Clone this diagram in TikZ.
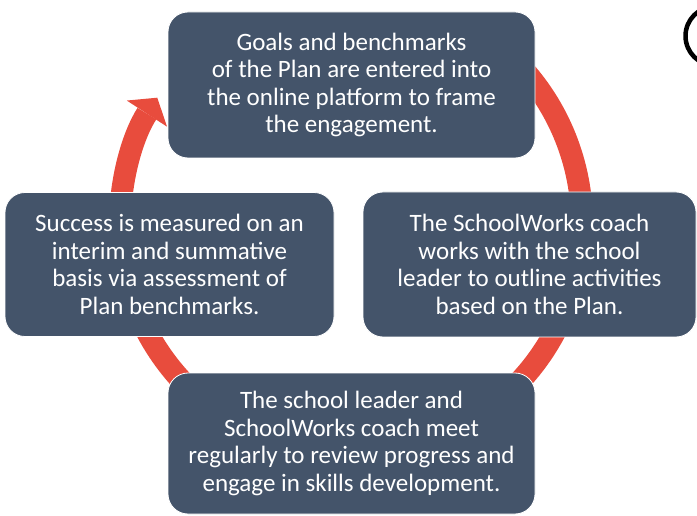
\documentclass[tikz,border=0pt]{standalone}
\usepackage{fontspec}
\setmainfont{Carlito}
\usepackage{tikz}
\usetikzlibrary{arrows.meta,positioning}
\definecolor{slate}{HTML}{44546A}
\definecolor{cyclered}{HTML}{E84C3D}

\begin{document}
\begin{tikzpicture}[node distance=181.5pt,>={Triangle[length=19pt,width=48pt,line width=0pt]},
  stage/.style={fill=slate,draw=white,line width=.8pt,rounded corners=20pt,text=white,align=center,inner sep=0pt,font=\fontsize{25}{27.5}\selectfont}]
\useasboundingbox (0,0) rectangle (697pt,515pt);
\coordinate (hub) at (351pt,291.5pt);
\draw [->,cyclered,line width=22pt] ([shift={(60:231pt)}]hub) arc[start angle=60,end angle=-213,radius=231pt];
\draw [line width=4.5pt] (715pt,479pt) circle (29.5pt);
\node [stage,minimum width=367pt,minimum height=146pt] at (351.5pt,430pt) (goal) {Goals and benchmarks\\of the Plan are entered into\\the online platform to frame\\the engagement.};
\node [stage,minimum width=333pt,minimum height=145pt,below of=goal,xshift=178pt,yshift=2pt] (coach) {The SchoolWorks coach\\works with the school\\leader to outline activities\\based on the Plan.};
\node [stage,minimum width=329pt,minimum height=144pt,below of=goal,xshift=-182pt,yshift=2pt] (success) {Success is measured on an\\interim and summative\\basis via assessment of\\Plan benchmarks.};
\node [stage,minimum width=367pt,minimum height=141pt,below of=goal,yshift=-177pt] (meet) {The school leader and\\SchoolWorks coach meet\\regularly to review progress and\\engage in skills development.};

\end{tikzpicture}
\end{document}
